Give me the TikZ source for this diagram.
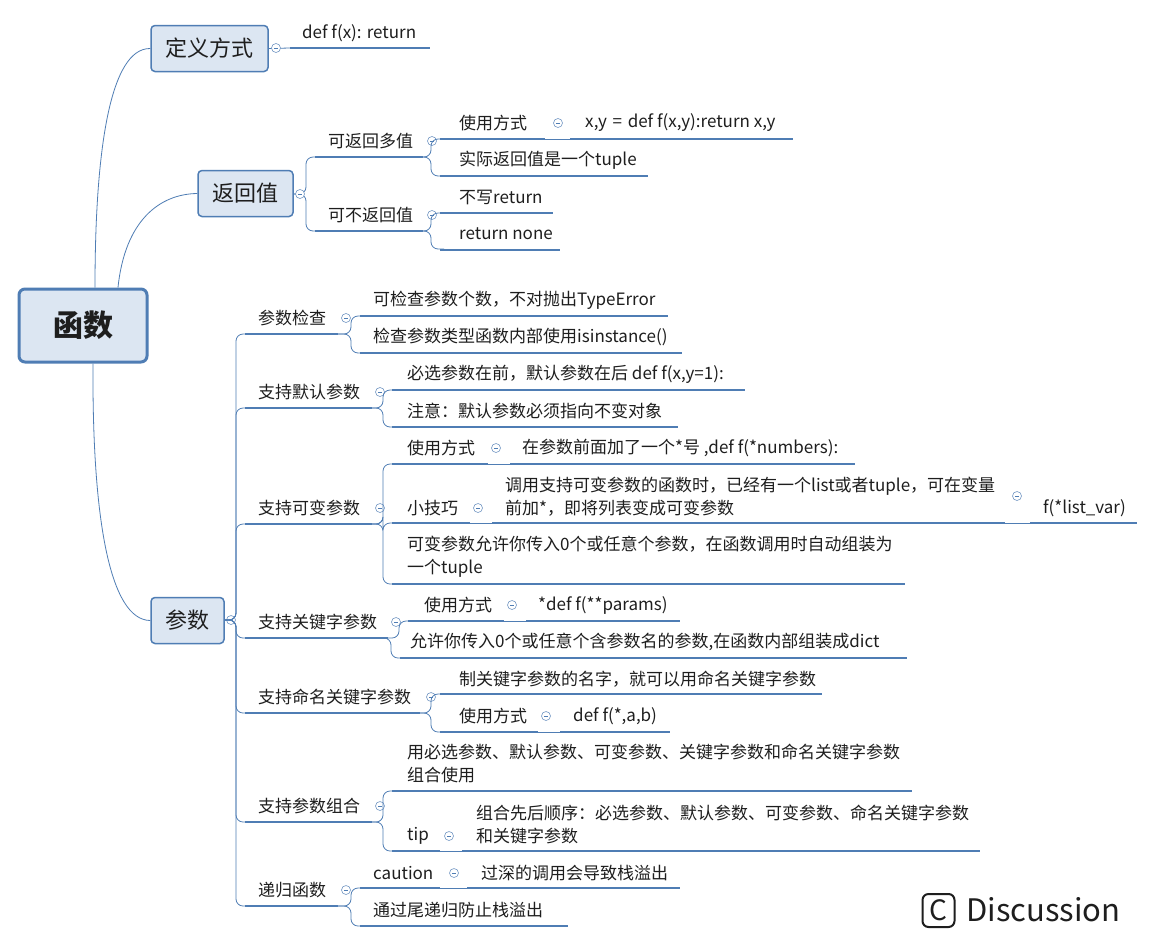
\documentclass[tikz,border=0pt]{standalone}
\usepackage{fontspec}
\setmainfont{Noto Sans CJK SC}
\definecolor{lc}{RGB}{79,125,180}
\definecolor{bf}{RGB}{220,230,242}
\definecolor{tc}{RGB}{30,30,30}
\tikzset{
 txt/.style={anchor=west,inner sep=0pt,text=tc,font=\fontsize{17}{23}\selectfont,align=left},
 ul/.style={draw=lc,line width=2.4pt},
 cn/.style={draw=lc,line width=0.8pt,rounded corners=7pt},
 topbox/.style={draw=lc,line width=1.5pt,fill=bf,rounded corners=4pt,text=tc,font=\fontsize{22}{26}\selectfont},
 cc/.style={circle,draw=lc!80,fill=white,line width=0.6pt,minimum size=9pt,inner sep=0pt,
   path picture={\draw[lc,line width=0.6pt] ([xshift=2.3pt]path picture bounding box.west) -- ([xshift=-2.3pt]path picture bounding box.east);}}
}
% name, tx, ty, text, xs, xe, uy
\newcommand\LEAF[7]{\node[txt] (#1) at (#2,#3) {#4}; \draw[ul] (#5,#7) -- (#6,#7);}
% xe, yu, xs, yc
\newcommand\CON[4]{\draw[cn] (#1,#2) -| (#3-9,#4) -- (#3+4,#4);}
\newcommand\CC[3]{\node[cc] (#1) at (#2,#3) {};}
\begin{document}
\begin{tikzpicture}[x=1pt,y=-1pt]
\useasboundingbox (0,0) rectangle (1155,943);
\fill[white] (0,0) rectangle (1155,943);
% root
\node[draw=lc,line width=3pt,fill=bf,rounded corners=6pt,minimum width=128pt,minimum height=73pt,text=tc,font=\fontsize{30}{34}\selectfont\bfseries] (root) at (83,325.5) {函数};
\node[topbox,minimum width=117pt,minimum height=46pt] (dy) at (209.5,48.5) {定义方式};
\node[topbox,minimum width=95pt,minimum height=46pt] (fh) at (245.5,193.5) {返回值};
\node[topbox,minimum width=73pt,minimum height=46pt] (cs) at (187.5,620.5) {参数};
\draw[lc,line width=0.8pt] ([xshift=12pt]root.north) .. controls (95,150) and (110,48) .. (dy.west);
\draw[lc,line width=0.8pt] ([xshift=35pt]root.north) .. controls (125,220) and (160,194) .. (fh.west);
\draw[lc,line width=0.8pt] ([xshift=10pt]root.south) .. controls (92,520) and (110,620) .. (cs.west);
% 定义方式
\draw[lc,line width=0.8pt] (dy.east) -- (290,48);
\LEAF{d1}{302}{33}{def f(x): return}{290}{430}{48}
\CC{c0}{276}{48}
% 返回值
\CON{293}{194}{315}{157} \CON{293}{194}{315}{231}
\CC{c1}{300}{194}
\LEAF{r1}{328}{141}{可返回多值}{315}{423}{157}
\LEAF{r2}{328}{215}{可不返回值}{315}{423}{231}
\CC{c2}{432}{141} \CC{c3}{432}{215}
\CON{423}{157}{440}{139} \CON{423}{157}{440}{176}
\CON{423}{231}{440}{213} \CON{423}{231}{440}{249}
\LEAF{r11}{459}{123}{使用方式}{440}{545}{139}
\CC{c4}{558}{123}
\draw[lc,line width=0.8pt] (545,139) -- (570,139);
\LEAF{r111}{585}{123}{x,y\,\,=\,\,def f(x,y):return x,y}{570}{793}{139}
\LEAF{r12}{459}{160}{实际返回值是一个tuple}{440}{648}{176}
\LEAF{r21}{459}{197}{不写return}{440}{553}{213}
\LEAF{r22}{459}{234}{return none}{440}{560}{250}
% 参数 trunk
\CC{c5}{231}{620}
\foreach \y in {334,408,524,638,713,822,906} {\CON{224}{620}{245}{\y}}
% 参数检查
\LEAF{p1}{258}{318}{参数检查}{245}{338}{334}
\CC{c6}{346}{318}
\CON{338}{334}{360}{316} \CON{338}{334}{360}{353}
\LEAF{p11}{373}{300}{可检查参数个数，不对抛出TypeError}{360}{668}{316}
\LEAF{p12}{373}{337}{检查参数类型函数内部使用isinstance()}{360}{682}{353}
% 支持默认参数
\LEAF{p2}{258}{392}{支持默认参数}{245}{372}{408}
\CC{c7}{380}{392}
\CON{372}{408}{392}{390} \CON{372}{408}{392}{427}
\LEAF{p21}{407}{374}{必选参数在前，默认参数在后 def f(x,y=1):}{392}{745}{390}
\LEAF{p22}{407}{411}{注意：默认参数必须指向不变对象}{392}{678}{427}
% 支持可变参数
\LEAF{p3}{258}{508}{支持可变参数}{245}{372}{524}
\CC{c8}{380}{508}
\CON{372}{524}{392}{464} \CON{372}{524}{392}{523} \CON{372}{524}{392}{584}
\LEAF{p31}{407}{448}{使用方式}{392}{488}{464}
\CC{c9}{496}{448}
\draw[lc,line width=0.8pt] (488,464) -- (510,464);
\LEAF{p311}{522}{448}{在参数前面加了一个*号 ,def f(*numbers):}{510}{855}{464}
\LEAF{p32}{407}{508}{小技巧}{392}{470}{523}
\CC{c10}{478}{508}
\draw[lc,line width=0.8pt] (470,523) -- (492,523);
\LEAF{p321}{505}{496.5}{调用支持可变参数的函数时，已经有一个list或者tuple，可在变量\\前加*，即将列表变成可变参数}{492}{1005}{523}
\CC{c11}{1017}{496}
\draw[lc,line width=0.8pt] (1005,523) -- (1030,523);
\LEAF{p3211}{1043}{508}{f(*list\_var)}{1030}{1137}{523}
\LEAF{p33}{407}{556.5}{可变参数允许你传入0个或任意个参数，在函数调用时自动组装为\\一个tuple}{392}{905}{584}
% 支持关键字参数
\LEAF{p4}{258}{622}{支持关键字参数}{245}{388}{638}
\CC{c12}{396}{622}
\CON{388}{638}{408}{621} \CON{388}{638}{400}{658}
\LEAF{p41}{424}{605}{使用方式}{408}{504}{621}
\CC{c13}{512}{605}
\draw[lc,line width=0.8pt] (504,621) -- (526,621);
\LEAF{p411}{538}{605}{*def f(**params)}{526}{680}{621}
\LEAF{p42}{410}{642}{允许你传入0个或任意个含参数名的参数,在函数内部组装成dict}{400}{907}{658}
% 支持命名关键字参数
\LEAF{p5}{258}{697}{支持命名关键字参数}{245}{420}{713}
\CC{c14}{431}{697}
\CON{420}{713}{440}{694} \CON{420}{713}{440}{732}
\LEAF{p51}{459}{679}{制关键字参数的名字，就可以用命名关键字参数}{440}{822}{694}
\LEAF{p52}{459}{716}{使用方式}{440}{538}{732}
\CC{c15}{546}{716}
\draw[lc,line width=0.8pt] (538,732) -- (560,732);
\LEAF{p521}{573}{716}{def f(*,a,b)}{560}{670}{732}
% 支持参数组合
\LEAF{p6}{258}{806}{支持参数组合}{245}{372}{822}
\CC{c16}{380}{806}
\CON{372}{822}{392}{791} \CON{372}{822}{392}{851}
\LEAF{p61}{407}{763.5}{用必选参数、默认参数、可变参数、关键字参数和命名关键字参数\\组合使用}{392}{912}{791}
\LEAF{p62}{407}{836}{tip}{392}{440}{851}
\CC{c17}{449}{836}
\draw[lc,line width=0.8pt] (440,851) -- (462,851);
\LEAF{p621}{476}{824.5}{组合先后顺序：必选参数、默认参数、可变参数、命名关键字参数\\和关键字参数}{462}{980}{851}
% 递归函数
\LEAF{p7}{258}{890}{递归函数}{245}{338}{906}
\CC{c18}{346}{890}
\CON{338}{906}{360}{888} \CON{338}{906}{360}{926}
\LEAF{p71}{373}{873}{caution}{360}{440}{888}
\CC{c19}{454}{873}
\draw[lc,line width=0.8pt] (440,888) -- (467,888);
\LEAF{p711}{481}{873}{过深的调用会导致栈溢出}{467}{680}{888}
\LEAF{p72}{373}{910}{通过尾递归防止栈溢出}{360}{568}{926}
% logo
\node[draw=tc,line width=2pt,rounded corners=6pt,minimum width=32pt,minimum height=33pt,inner sep=0pt,text=tc,font=\fontsize{28}{30}\selectfont] (logo) at (938.5,910.5) {C};
\node[anchor=west,inner sep=0pt,text=tc,font=\fontsize{31}{34}\selectfont] (disc) at (966,910) {Discussion};
\end{tikzpicture}
\end{document}
